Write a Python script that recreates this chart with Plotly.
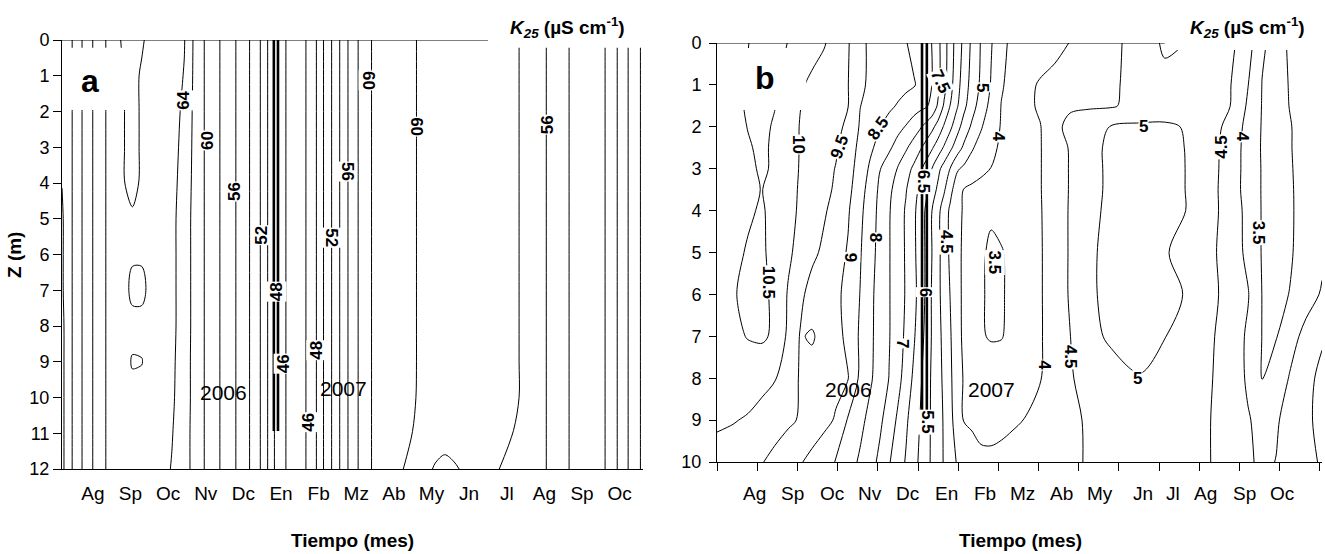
import plotly.graph_objects as go

FONT = "Liberation Sans, Arial, Helvetica, sans-serif"

# ---------------- shared axis text ----------------
month_labels = ["Ag", "Sp", "Oc", "Nv", "Dc", "En", "Fb", "Mz", "Ab", "My", "Jn", "Jl", "Ag", "Sp", "Oc"]
month_centers_a = [0.5, 1.5, 2.5, 3.5, 4.5, 5.5, 6.5, 7.5, 8.5, 9.5, 10.5, 11.5, 12.5, 13.5, 14.5]
month_label_pos_b = [0.945, 1.89, 2.86, 3.81, 4.75, 5.70, 6.67, 7.59, 8.56, 9.53, 10.60, 11.34, 12.16, 13.11, 14.05]
month_ticks_b = [0, 1, 2, 3, 4, 5, 6, 7, 8, 9, 10, 11, 12, 13, 14, 15]
depth_ticks_a = [0, 1, 2, 3, 4, 5, 6, 7, 8, 9, 10, 11, 12]
depth_ticks_b = [0, 1, 2, 3, 4, 5, 6, 7, 8, 9, 10]

# ---------------- panel a : K25 grid (time in months, depth in m) ----------------
time_a = [-0.32, -0.18, 0.08, 0.345, 0.65, 1.0, 1.3, 1.55, 1.8, 2.2, 2.6, 2.93, 3.27, 3.65, 4.1, 4.5,
          4.83, 5.07, 5.22, 5.43, 5.75, 6.05, 6.35, 6.53, 6.73, 6.96, 7.16, 7.4, 7.7, 8.05, 8.5, 9.0,
          9.3, 9.6, 9.85, 10.1, 10.5, 11.0, 11.7, 12.25, 12.85, 13.4, 14.0, 14.3, 14.57, 14.88, 15.12]
depth_a = [0, 1, 2, 3, 4, 5, 6, 7, 8, 9, 10, 11, 12]
k25_a = [
    [56.05, 57.0, 59.0, 61.0, 63.0, 64.8, 66.3, 66.5, 66.2, 65.0, 65.0, 64.1, 61.0, 59.0, 57.0, 55.0, 53.0, 51.0, 49.0, 47.0, 45.4, 45.4, 47.0, 49.0, 51.0, 53.0, 55.0, 57.0, 59.0, 60.7, 60.9, 60.2, 59.6, 59.4, 59.3, 59.2, 59.1, 58.9, 58.3, 57.0, 55.0, 53.2, 52.6, 51.0, 49.0, 47.0, 45.6],
    [56.05, 57.0, 59.0, 61.0, 63.0, 64.8, 65.9, 66.5, 65.8, 65.0, 64.9, 63.9, 61.0, 59.0, 57.0, 55.0, 53.0, 51.0, 49.0, 47.0, 45.4, 45.4, 47.0, 49.0, 51.0, 53.0, 55.0, 57.0, 59.0, 60.7, 60.9, 60.2, 59.6, 59.4, 59.3, 59.2, 59.1, 58.9, 58.3, 57.0, 55.0, 53.2, 52.6, 51.0, 49.0, 47.0, 45.6],
    [56.05, 57.0, 59.0, 61.0, 63.0, 64.8, 65.9, 66.5, 65.8, 65.0, 64.8, 63.6, 61.0, 59.0, 57.0, 55.0, 53.0, 51.0, 49.0, 47.0, 45.4, 45.4, 47.0, 49.0, 51.0, 53.0, 55.0, 57.0, 59.0, 60.7, 60.9, 60.2, 59.6, 59.4, 59.3, 59.2, 59.1, 58.9, 58.3, 57.0, 55.0, 53.2, 52.6, 51.0, 49.0, 47.0, 45.6],
    [56.05, 57.0, 59.0, 61.0, 63.0, 64.8, 65.9, 66.5, 65.8, 65.0, 64.7, 63.4, 61.0, 59.0, 57.0, 55.0, 53.0, 51.0, 49.0, 47.0, 45.4, 45.4, 47.0, 49.0, 51.0, 53.0, 55.0, 57.0, 59.0, 60.7, 60.9, 60.2, 59.6, 59.4, 59.3, 59.2, 59.1, 58.9, 58.3, 57.0, 55.0, 53.2, 52.6, 51.0, 49.0, 47.0, 45.6],
    [56.05, 57.0, 59.0, 61.0, 63.0, 64.8, 65.9, 66.4, 65.8, 65.0, 64.6, 63.2, 61.0, 59.0, 57.0, 55.0, 53.0, 51.0, 49.0, 47.0, 45.4, 45.4, 47.0, 49.0, 51.0, 53.0, 55.0, 57.0, 59.0, 60.7, 60.9, 60.2, 59.6, 59.4, 59.3, 59.2, 59.1, 58.9, 58.3, 57.0, 55.0, 53.2, 52.6, 51.0, 49.0, 47.0, 45.6],
    [55.7, 57.0, 59.0, 61.0, 63.0, 64.8, 65.5, 65.8, 65.5, 65.0, 64.5, 63.0, 61.0, 59.0, 57.0, 55.0, 53.0, 51.0, 49.0, 47.0, 45.4, 45.4, 47.0, 49.0, 51.0, 53.0, 55.0, 57.0, 59.0, 60.7, 60.9, 60.2, 59.6, 59.4, 59.3, 59.2, 59.1, 58.9, 58.3, 57.0, 55.0, 53.2, 52.6, 51.0, 49.0, 47.0, 45.6],
    [55.7, 57.0, 59.0, 61.0, 63.0, 64.8, 65.5, 65.85, 65.85, 65.0, 64.5, 63.0, 61.0, 59.0, 57.0, 55.0, 53.0, 51.0, 49.0, 47.0, 45.4, 45.4, 47.0, 49.0, 51.0, 53.0, 55.0, 57.0, 59.0, 60.7, 60.9, 60.2, 59.6, 59.4, 59.3, 59.2, 59.1, 58.9, 58.3, 57.0, 55.0, 53.2, 52.6, 51.0, 49.0, 47.0, 45.6],
    [55.7, 57.0, 59.0, 61.0, 63.0, 64.8, 65.5, 66.3, 66.3, 65.2, 64.5, 63.0, 61.0, 59.0, 57.0, 55.0, 53.0, 51.0, 49.0, 47.0, 45.4, 45.4, 47.0, 49.0, 51.0, 53.0, 55.0, 57.0, 59.0, 60.7, 60.9, 60.2, 59.6, 59.4, 59.3, 59.2, 59.1, 58.9, 58.3, 57.0, 55.0, 53.2, 52.6, 51.0, 49.0, 47.0, 45.6],
    [55.4, 57.0, 59.0, 61.0, 63.0, 64.8, 65.5, 65.6, 65.6, 65.0, 64.5, 63.0, 61.0, 59.0, 57.0, 55.0, 53.0, 51.0, 49.0, 47.0, 45.4, 45.4, 47.0, 49.0, 51.0, 53.0, 55.0, 57.0, 59.0, 60.7, 60.9, 60.2, 59.6, 59.4, 59.3, 59.2, 59.1, 58.9, 58.3, 57.0, 55.0, 53.2, 52.6, 51.0, 49.0, 47.0, 45.6],
    [55.4, 57.0, 59.0, 61.0, 63.0, 64.8, 65.5, 66.1, 66.05, 65.0, 64.4, 62.9, 61.0, 59.0, 57.0, 55.0, 53.0, 51.0, 49.0, 47.0, 45.4, 45.4, 47.0, 49.0, 51.0, 53.0, 55.0, 57.0, 59.0, 60.7, 60.9, 60.2, 59.6, 59.4, 59.3, 59.2, 59.1, 58.9, 58.3, 57.0, 55.0, 53.2, 52.6, 51.0, 49.0, 47.0, 45.6],
    [55.4, 57.0, 59.0, 61.0, 63.0, 64.8, 65.5, 65.6, 65.5, 65.0, 64.3, 62.9, 61.0, 59.0, 57.0, 55.0, 53.0, 51.0, 49.0, 47.0, 45.4, 45.4, 47.0, 49.0, 51.0, 53.0, 55.0, 57.0, 59.0, 60.7, 60.9, 60.2, 59.5, 59.2, 59.0, 59.0, 59.0, 58.85, 58.3, 57.0, 55.0, 53.2, 52.6, 51.0, 49.0, 47.0, 45.6],
    [55.4, 57.0, 59.0, 61.0, 63.0, 64.8, 65.5, 65.6, 65.5, 65.0, 64.1, 62.8, 61.0, 59.0, 57.0, 55.0, 53.0, 51.0, 49.0, 47.0, 45.4, 45.4, 47.0, 49.0, 51.0, 53.0, 55.0, 57.0, 59.0, 60.7, 60.8, 59.98, 59.0, 58.5, 58.3, 58.4, 58.6, 58.7, 57.95, 57.0, 55.0, 53.2, 52.6, 51.0, 49.0, 47.0, 45.6],
    [55.4, 57.0, 59.0, 61.0, 63.0, 64.8, 65.5, 65.6, 65.5, 64.9, 63.9, 62.8, 61.0, 59.0, 57.0, 55.0, 53.0, 51.0, 49.0, 47.0, 45.4, 45.4, 47.0, 49.0, 51.0, 53.0, 55.0, 57.0, 59.0, 60.7, 60.3, 59.7, 58.3, 57.9, 57.8, 57.9, 58.2, 58.3, 57.6, 57.0, 55.0, 53.2, 52.6, 51.0, 49.0, 47.0, 45.6],
]

# ---------------- panel b : K25 grid ----------------
time_b = [0.0, 0.40, 0.77, 1.12, 1.44, 1.77, 2.07, 2.36, 2.66, 2.96, 3.26, 3.56, 3.81, 4.06, 4.28, 4.50,
          4.70, 4.90, 5.05, 5.20, 5.35, 5.50, 5.65, 5.80, 5.97, 6.14, 6.34, 6.57, 6.82, 7.07, 7.34, 7.66,
          8.04, 8.41, 8.78, 9.23, 9.78, 10.52, 11.14, 11.77, 12.26, 12.76, 13.21, 13.56, 13.91, 14.25, 14.65, 15.05]
depth_b = [0, 1, 1.5, 2, 2.5, 3, 3.5, 4, 5, 6, 7, 8, 9, 10]
k25_b = [
    [10.25, 10.38, 10.49, 10.64, 10.63, 10.49, 10.35, 10.19, 10.04, 9.80, 9.54, 9.12, 8.92, 8.81, 8.71, 8.61, 8.52, 8.38, 8.25, 8.13, 7.99, 7.63, 7.21, 6.75, 6.28, 5.88, 5.40, 4.96, 4.54, 4.09, 3.93, 3.83, 3.79, 3.89, 4.01, 4.16, 4.36, 4.71, 5.08, 4.98, 4.81, 4.62, 4.22, 3.55, 3.38, 3.54, 3.67, 3.80],
    [10.25, 10.39, 10.53, 10.69, 10.56, 10.33, 10.07, 9.90, 9.77, 9.64, 9.51, 9.08, 8.93, 8.84, 8.75, 8.67, 8.60, 8.53, 8.41, 8.23, 7.99, 7.63, 7.17, 6.67, 6.19, 5.75, 5.32, 4.91, 4.46, 4.04, 3.88, 3.89, 4.04, 4.12, 4.21, 4.31, 4.43, 4.64, 4.86, 4.78, 4.65, 4.53, 4.01, 3.49, 3.36, 3.52, 3.66, 3.80],
    [10.25, 10.40, 10.54, 10.63, 10.51, 10.25, 10.01, 9.88, 9.75, 9.63, 9.51, 9.01, 8.86, 8.71, 8.59, 8.46, 8.34, 8.23, 8.14, 8.06, 7.86, 7.42, 6.93, 6.49, 6.06, 5.63, 5.20, 4.77, 4.35, 3.99, 3.87, 3.87, 4.07, 4.40, 4.42, 4.43, 4.45, 4.65, 4.79, 4.75, 4.63, 4.51, 3.93, 3.48, 3.36, 3.51, 3.65, 3.80],
    [10.25, 10.38, 10.51, 10.58, 10.46, 10.20, 9.98, 9.85, 9.73, 9.60, 9.42, 8.95, 8.73, 8.51, 8.32, 8.14, 7.97, 7.74, 7.56, 7.35, 7.12, 6.81, 6.44, 6.11, 5.69, 5.30, 4.92, 4.54, 4.22, 3.97, 3.87, 3.85, 3.98, 4.36, 4.65, 4.85, 5.01, 5.08, 5.06, 4.96, 4.70, 4.36, 3.84, 3.47, 3.36, 3.48, 3.64, 3.80],
    [10.25, 10.36, 10.47, 10.56, 10.44, 10.19, 9.98, 9.83, 9.69, 9.55, 9.25, 8.88, 8.59, 8.32, 8.08, 7.81, 7.56, 7.29, 7.07, 6.82, 6.55, 6.25, 5.94, 5.61, 5.25, 4.91, 4.55, 4.32, 4.09, 3.94, 3.83, 3.87, 3.98, 4.24, 4.54, 4.87, 5.07, 5.20, 5.10, 4.97, 4.68, 4.30, 3.81, 3.46, 3.36, 3.48, 3.63, 3.80],
    [10.25, 10.35, 10.44, 10.54, 10.46, 10.19, 9.97, 9.81, 9.65, 9.48, 9.18, 8.81, 8.42, 8.01, 7.74, 7.47, 7.20, 6.90, 6.60, 6.30, 5.99, 5.63, 5.30, 4.99, 4.56, 4.41, 4.28, 4.14, 3.99, 3.89, 3.81, 3.89, 3.98, 4.24, 4.53, 4.84, 5.08, 5.25, 5.12, 4.97, 4.67, 4.29, 3.81, 3.47, 3.35, 3.47, 3.63, 3.80],
    [10.25, 10.34, 10.43, 10.51, 10.32, 10.13, 9.96, 9.79, 9.63, 9.43, 9.13, 8.71, 8.29, 7.90, 7.60, 7.30, 7.03, 6.68, 6.40, 6.10, 5.75, 5.39, 5.06, 4.64, 4.25, 3.98, 3.89, 3.80, 3.71, 3.76, 3.82, 3.90, 3.98, 4.24, 4.53, 4.84, 5.08, 5.25, 5.12, 4.97, 4.66, 4.27, 3.81, 3.47, 3.35, 3.46, 3.63, 3.80],
    [10.25, 10.35, 10.44, 10.55, 10.34, 10.13, 9.94, 9.75, 9.56, 9.32, 9.05, 8.62, 8.23, 7.86, 7.54, 7.23, 6.95, 6.59, 6.28, 5.93, 5.49, 5.13, 4.75, 4.42, 4.15, 3.95, 3.83, 3.69, 3.56, 3.64, 3.74, 3.85, 3.97, 4.24, 4.54, 4.86, 5.10, 5.30, 5.14, 4.97, 4.66, 4.29, 3.86, 3.47, 3.35, 3.46, 3.62, 3.80],
    [10.25, 10.39, 10.54, 10.57, 10.34, 10.08, 9.85, 9.62, 9.40, 9.19, 8.96, 8.54, 8.18, 7.83, 7.53, 7.23, 6.95, 6.59, 6.28, 5.93, 5.49, 5.13, 4.75, 4.42, 4.13, 3.92, 3.75, 3.56, 3.43, 3.47, 3.60, 3.77, 3.96, 4.24, 4.54, 4.90, 5.14, 5.23, 5.04, 4.80, 4.60, 4.30, 3.88, 3.47, 3.35, 3.46, 3.66, 3.90],
    [10.30, 10.46, 10.62, 10.62, 10.39, 9.96, 9.62, 9.30, 9.20, 9.11, 8.85, 8.49, 8.12, 7.79, 7.53, 7.23, 6.96, 6.63, 6.31, 5.92, 5.44, 5.11, 4.80, 4.49, 4.15, 3.91, 3.74, 3.54, 3.43, 3.46, 3.59, 3.76, 3.96, 4.24, 4.54, 4.90, 5.14, 5.25, 5.12, 4.95, 4.64, 4.32, 4.03, 3.49, 3.41, 3.51, 3.78, 4.05],
    [10.30, 10.41, 10.52, 10.57, 10.42, 9.90, 9.47, 9.54, 9.38, 9.16, 8.88, 8.43, 8.10, 7.79, 7.53, 7.21, 6.91, 6.55, 6.22, 5.86, 5.45, 5.15, 4.85, 4.55, 4.17, 3.91, 3.74, 3.54, 3.46, 3.48, 3.59, 3.76, 3.96, 4.22, 4.49, 4.83, 5.08, 5.15, 5.01, 4.77, 4.57, 4.28, 3.93, 3.49, 3.48, 3.79, 4.16, 4.45],
    [10.10, 10.21, 10.27, 10.15, 10.03, 9.72, 9.46, 9.35, 9.24, 9.13, 9.02, 8.40, 8.07, 7.76, 7.49, 7.15, 6.80, 6.40, 6.10, 5.75, 5.42, 5.17, 4.90, 4.60, 4.19, 3.97, 3.91, 3.84, 3.77, 3.71, 3.78, 3.87, 3.98, 4.21, 4.47, 4.61, 4.77, 4.98, 4.87, 4.69, 4.54, 4.26, 3.94, 3.49, 3.67, 4.04, 4.38, 4.60],
    [10.06, 10.03, 9.95, 9.82, 9.70, 9.58, 9.46, 9.30, 9.14, 8.95, 8.45, 8.13, 7.86, 7.58, 7.27, 6.92, 6.58, 6.25, 5.99, 5.70, 5.42, 5.19, 4.95, 4.65, 4.25, 3.98, 3.92, 3.86, 3.81, 3.86, 3.93, 4.01, 4.14, 4.28, 4.42, 4.54, 4.63, 4.76, 4.73, 4.61, 4.51, 4.27, 4.03, 3.88, 3.95, 4.16, 4.43, 4.60],
    [9.85, 9.73, 9.62, 9.52, 9.37, 9.20, 9.04, 8.86, 8.67, 8.48, 8.20, 7.93, 7.68, 7.38, 7.04, 6.73, 6.46, 6.15, 5.92, 5.67, 5.42, 5.19, 4.96, 4.71, 4.47, 4.36, 4.23, 4.10, 4.12, 4.15, 4.20, 4.26, 4.32, 4.38, 4.45, 4.52, 4.60, 4.71, 4.69, 4.59, 4.51, 4.28, 4.06, 3.92, 4.01, 4.18, 4.37, 4.55],
]

# ---------------- contour labels (text, time, depth, angle) ----------------
lab_a_text = ["64", "60", "56", "52", "48", "46", "46", "48", "52", "56", "60", "60", "56"]
lab_a_x = [2.89, 3.53, 4.28, 4.99, 5.37, 5.57, 6.22, 6.45, 6.85, 7.25, 7.84, 9.08, 12.57]
lab_a_z = [1.68, 2.80, 4.25, 5.45, 7.05, 9.05, 10.7, 8.67, 5.54, 3.69, 1.12, 2.43, 2.38]
lab_a_ang = [-90, -90, -90, -90, -90, -90, -90, -90, 90, 90, 90, 90, -90]

lab_b_text = ["10", "9.5", "8.5", "10.5", "9", "8", "7", "7.5", "6.5", "6", "5.5", "4.5", "5", "4", "3.5",
              "5", "4", "4.5", "5", "4.5", "4", "3.5"]
lab_b_x = [2.01, 3.06, 4.00, 1.27, 3.31, 3.93, 4.63, 5.55, 5.14, 5.18, 5.25, 5.72, 6.62, 6.99, 6.90,
           10.60, 8.16, 8.78, 10.45, 12.56, 13.06, 13.46]
lab_b_z = [2.43, 2.48, 2.03, 5.70, 5.10, 4.65, 7.16, 0.93, 3.30, 5.94, 9.05, 4.75, 1.05, 2.24, 5.25,
           2.00, 7.69, 7.49, 8.00, 2.48, 2.24, 4.53]
lab_b_ang = [90, -70, -55, 90, 90, 90, 90, 65, 90, 90, 90, 90, 90, 90, 90, 0, 90, 90, 0, -90, 90, 90]

year_text = ["2006", "2007"]
year_a_x = [3.97, 7.15]
year_a_z = [9.87, 9.76]
year_b_x = [3.26, 6.82]
year_b_z = [8.28, 8.28]

# ---------------- figure ----------------
fig = go.Figure()
fig.add_trace(go.Contour(
    x=time_a, y=depth_a, z=k25_a, xaxis="x", yaxis="y",
    contours=dict(coloring="none", start=44, end=66, size=2, showlabels=False),
    line=dict(color="black", width=1, smoothing=0.9),
    showscale=False, hoverinfo="skip"))
fig.add_trace(go.Contour(
    x=time_b, y=depth_b, z=k25_b, xaxis="x2", yaxis="y2",
    contours=dict(coloring="none", start=3.5, end=10.5, size=0.5, showlabels=False),
    line=dict(color="black", width=1, smoothing=0.9),
    showscale=False, hoverinfo="skip"))

ax_common = dict(showgrid=False, zeroline=False, showline=True, linecolor="black", linewidth=1,
                 automargin=False, tickcolor="black")
tick_x_font = dict(family=FONT, size=19, color="black")
tick_y_font = dict(family=FONT, size=18, color="black")

fig.update_layout(
    width=1325, height=554, autosize=False,
    margin=dict(l=0, r=0, t=0, b=0),
    paper_bgcolor="white", plot_bgcolor="white",
    showlegend=False,
    font=dict(family=FONT, color="black"),
    xaxis=dict(domain=[62 / 1325, 643 / 1325], range=[-0.32, 15.12], anchor="y",
               tickmode="array", tickvals=month_centers_a, ticktext=month_labels,
               ticks="", ticklabelstandoff=7, tickfont=tick_x_font, **ax_common),
    yaxis=dict(domain=[1 - 469 / 554, 1 - 40 / 554], range=[12, 0], anchor="x",
               tickmode="array", tickvals=depth_ticks_a, ticks="outside", ticklen=8,
               tickfont=tick_y_font, **ax_common),
    xaxis2=dict(domain=[717 / 1325, 1322 / 1325], range=[0, 15.05], anchor="y2",
                tickmode="array", tickvals=month_ticks_b, showticklabels=False,
                ticks="outside", ticklen=8, **ax_common),
    yaxis2=dict(domain=[1 - 462 / 554, 1 - 43 / 554], range=[10, 0], anchor="x2",
                tickmode="array", tickvals=depth_ticks_b, ticks="outside", ticklen=7,
                ticklabelstandoff=4, tickfont=tick_y_font, **ax_common),
)

shapes = []
# partial top frame lines
shapes.append(dict(type="line", xref="x", yref="y", x0=-0.32, x1=11.0, y0=0, y1=0,
                   line=dict(color="black", width=1)))
shapes.append(dict(type="line", xref="x2", yref="y2", x0=0, x1=11.14, y0=0, y1=0,
                   line=dict(color="black", width=1)))
# white masks (panel letter boxes and under the unit titles)
for xr, yr, x0, x1, y0, y1 in [("x", "y", -0.29, 1.57, 0.22, 1.96),
                               ("x", "y", 11.0, 15.3, -0.05, 0.22),
                               ("x2", "y2", 0.03, 2.22, 0.12, 1.60),
                               ("x2", "y2", 11.14, 15.2, -0.05, 0.17)]:
    shapes.append(dict(type="rect", xref=xr, yref=yr, x0=x0, x1=x1, y0=y0, y1=y1,
                       fillcolor="white", line=dict(width=0), layer="above"))
# year separators (double thick lines)
for xr, yr, xs, ybot in [("x", "y", [5.31, 5.42], 10.94), ("x2", "y2", [5.10, 5.22], 8.93)]:
    for xv in xs:
        shapes.append(dict(type="line", xref=xr, yref=yr, x0=xv, x1=xv, y0=0, y1=ybot,
                           line=dict(color="black", width=2.6), layer="above"))
fig.update_layout(shapes=shapes)

ann = []
lab_font = dict(family=FONT, size=17, color="black")
for t, x, z, a in zip(lab_a_text, lab_a_x, lab_a_z, lab_a_ang):
    ann.append(dict(x=x, y=z, xref="x", yref="y", text="<b>%s</b>" % t, showarrow=False,
                    xanchor="center", yanchor="middle",
                    textangle=a, font=lab_font, bgcolor="white", borderpad=0))
for t, x, z, a in zip(lab_b_text, lab_b_x, lab_b_z, lab_b_ang):
    ann.append(dict(x=x, y=z, xref="x2", yref="y2", text="<b>%s</b>" % t, showarrow=False,
                    xanchor="center", yanchor="middle",
                    textangle=a, font=lab_font, bgcolor="white", borderpad=0))
for t, x, z in zip(year_text, year_a_x, year_a_z):
    ann.append(dict(x=x, y=z, xref="x", yref="y", text=t, showarrow=False,
                    xanchor="center", yanchor="middle",
                    font=dict(family=FONT, size=21, color="black")))
for t, x, z in zip(year_text, year_b_x, year_b_z):
    ann.append(dict(x=x, y=z, xref="x2", yref="y2", text=t, showarrow=False,
                    xanchor="center", yanchor="middle",
                    font=dict(family=FONT, size=21, color="black")))
# month labels of panel b
for t, x in zip(month_labels, month_label_pos_b):
    ann.append(dict(x=x, y=1 - 493 / 554, xref="x2", yref="paper", text=t, showarrow=False,
                    xanchor="center", yanchor="middle", font=dict(family=FONT, size=19, color="black")))
# panel letters
ann.append(dict(x=0.42, y=1.15, xref="x", yref="y", text="<b>a</b>", showarrow=False,
                xanchor="center", yanchor="middle", font=dict(family=FONT, size=32, color="black")))
ann.append(dict(x=1.19, y=0.84, xref="x2", yref="y2", text="<b>b</b>", showarrow=False,
                xanchor="center", yanchor="middle", font=dict(family=FONT, size=32, color="black")))
# unit titles
unit = "<b><i>K</i><sub><i>25</i></sub> (µS cm<sup>-1</sup>)</b>"
for xp in [567 / 1325, 1247 / 1325]:
    ann.append(dict(x=xp, y=1 - 27 / 554, xref="paper", yref="paper", text=unit, showarrow=False,
                    xanchor="center", yanchor="middle", font=dict(family=FONT, size=19, color="black")))
# axis titles
for xp in [352 / 1325, 1020 / 1325]:
    ann.append(dict(x=xp, y=1 - 540 / 554, xref="paper", yref="paper", text="<b>Tiempo (mes)</b>",
                    xanchor="center", yanchor="middle",
                    showarrow=False, font=dict(family=FONT, size=19, color="black")))
ann.append(dict(x=14 / 1325, y=1 - 255 / 554, xref="paper", yref="paper", text="<b>Z (m)</b>",
                xanchor="center", yanchor="middle",
                textangle=-90, showarrow=False, font=dict(family=FONT, size=19, color="black")))
fig.update_layout(annotations=ann)

fig.write_html("out.html")
